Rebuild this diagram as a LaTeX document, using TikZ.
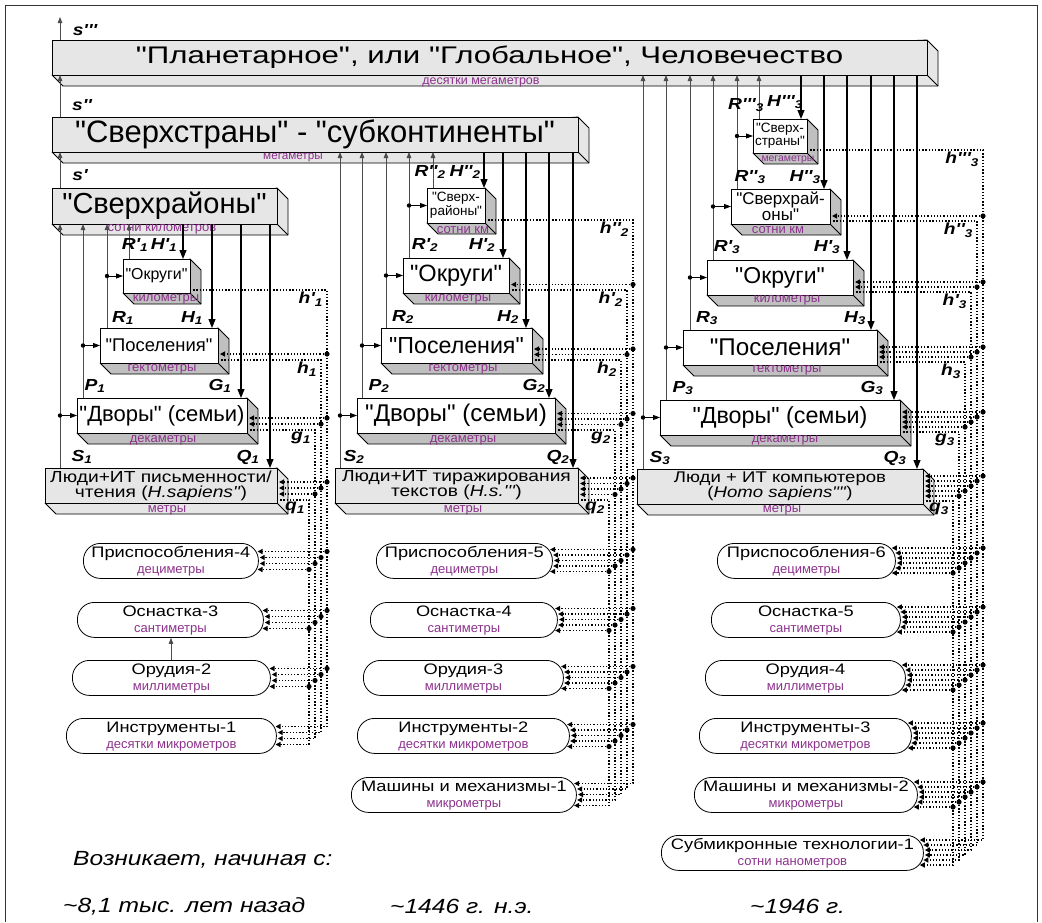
\documentclass[tikz,border=0pt]{standalone}
\usepackage{fontspec}
\newfontfamily\wf{Liberation Sans}[FakeStretch=1.2]
\newfontfamily\wwf{Liberation Sans}[FakeStretch=1.3]
\newfontfamily\nf{Liberation Sans}
\usetikzlibrary{arrows.meta}
\definecolor{purp}{RGB}{140,50,140}
\definecolor{lg}{RGB}{230,230,230}
\definecolor{mg}{RGB}{192,192,192}
\newcommand\fsz[1]{\fontsize{#1}{#1}\selectfont}
\tikzset{
 upc/.style={draw=black!70, line width=0.8pt, -{Triangle[length=6pt,width=4.5pt]}},
 dnc/.style={draw=black, line width=1.1pt, -{Triangle[length=9pt,width=7pt]}},
 brc/.style={draw=black, line width=0.8pt, -{Triangle[length=7pt,width=5pt]}},
 dotc/.style={draw=black, line width=1.3pt, dash pattern=on 1.3pt off 1.9pt, -{Triangle[length=5pt,width=5pt]}},
 sub/.style={text=purp, font=\nf\fsz{13}, inner sep=0pt},
 lbl/.style={font=\wf\fsz{16}\bfseries\itshape, inner sep=0pt},
 rb/.style={draw, line width=0.8pt, rounded corners=17pt, inner sep=0pt, anchor=north west},
 rbt/.style={font=\wf\fsz{15.2}, inner sep=0pt, text height=11pt, text depth=3pt},
}
% 3D box: name, x1, y1, x2, y2, front fill, side fill, font, text
\newcommand\tdbox[9]{%
  \filldraw[fill=#7, line width=0.8pt, line join=round] (#2,#5) -- (#2+11,#5+11) -- (#4+11,#5+11) -- (#4+11,#3+11) -- (#4,#3) -- cycle;
  \draw[line width=0.8pt] (#4,#5) -- (#4+11,#5+11);
  \node[draw, line width=0.8pt, fill=#6, anchor=north west, inner sep=0pt, outer sep=0pt,
        minimum width={#4-#2}, minimum height={#5-#3}, align=center, font=#8] (#1) at (#2,#3) {#9};
}
% rounded box: name, x1, y1, x2, y2, main, sub
\newcommand\rbox[7]{%
  \node[rb, minimum width={#4-#2}, minimum height={#5-#3}] (#1) at (#2,#3) {};
  \node[rbt] (#1t) at ([yshift=7pt]#1.center) {#6};
  \node[sub, text height=9pt, text depth=2.5pt] (#1s) at ([yshift=-9pt]#1.center) {#7};
}
\newcommand\upl[3]{\coordinate (q) at (#1,0); \draw[upc] (q |- #2.north) -- (q |- #3.south);}
\newcommand\dnl[3]{\coordinate (q) at (#1,0); \draw[dnc] (q |- #2.south) -- (q |- #3.north);}
\newcommand\brl[2]{\coordinate (q) at (#1,0); \draw[brc] (q |- #2.west) -- (#2.west); \fill (q |- #2.west) circle (2.2pt);}
% dotted feedback buses
\newcommand\getyx[2]{%
  \pgfmathsetmacro\yy{(#2>\Kk) ? ((\YA[#2-1]+\YB[#2-1])/2 + \Ss*(#1-1) - \Ss*(\Kk-1)/2) : (\YB[#2-1]-3-\Ss*(#2-#1))}%
  \pgfmathsetmacro\xx{(#2>\Kk) ? (\XR[#2-1]-17.5+sqrt(306.25-(\yy-(\YA[#2-1]+\YB[#2-1])/2)^2)+2) : (\XR[#2-1]+2)}%
}
\newcommand\buses{%
 \foreach \i in {1,...,\Kk}{%
   \pgfmathsetmacro\bx{\Xo-6*(\i-1)}%
   \pgfmathsetmacro\xo{\XR[\i-1]}%
   \pgfmathsetmacro\yo{\YB[\i-1]-3}%
   \getyx{\i}{\Mm}%
   \draw[dotc] (\xo,\yo) -- (\bx,\yo) -- (\bx,\yy) -- (\xx,\yy);
   \pgfmathtruncatemacro\ja{\i+1}%
   \pgfmathtruncatemacro\jb{\Mm-1}%
   \foreach \j in {\ja,...,\jb}{%
     \getyx{\i}{\j}%
     \draw[dotc] (\bx,\yy) -- (\xx,\yy);
     \fill (\bx,\yy) circle (2.6pt);
   }
 }
}
\begin{document}
\begin{tikzpicture}[x=1pt,y=-1pt]
\useasboundingbox (0,0) rectangle (1042,922);
\fill[white] (0,0) rectangle (1042,922);
\draw[line width=0.8pt, black!80] (5,922) -- (5,5) -- (1037,5) -- (1037,922);

% ---------- top level boxes ----------
\tdbox{PL}{52}{40}{927}{75}{lg}{lg}{\wwf\fsz{24}}{"Планетарное", или "Глобальное", Человечество}
\tdbox{SS}{52}{117}{578}{152}{lg}{lg}{\nf\fsz{31}}{"Сверхстраны" - "субконтиненты"}
\tdbox{SR1}{52}{188}{277}{224}{lg}{lg}{\nf\fsz{29}}{"Сверхрайоны"}
\node[sub, font=\nf\fsz{12.5}] (sPL) at (481,82) {десятки мегаметров};
\node[sub, font=\nf\fsz{11.7}] (sSS) at (293,158) {мегаметры};
\node[sub] (sSR1) at (162,229) {сотни километров};

% ---------- column 1 ----------
\tdbox{O1}{123}{259}{190}{293}{white}{mg}{\nf\fsz{15.9}}{"Округи"}
\tdbox{Pos1}{100}{328}{218}{363}{white}{mg}{\nf\fsz{18.4}}{"Поселения"}
\tdbox{D1}{77}{398}{247}{433}{white}{mg}{\nf\fsz{22}}{"Дворы" (семьи)}
\tdbox{L1}{45}{468}{277}{503}{lg}{lg}{\wf\fontsize{16}{15}\selectfont}{Люди+ИТ письменности/\\чтения (\textit{H.sapiens"})}
\node[sub] (sO1) at (166,299) {километры};
\node[sub] (sPos1) at (162,369) {гектометры};
\node[sub] (sD1) at (163,440) {декаметры};
\node[sub] (sL1) at (167,510) {метры};
\rbox{Pr4}{83}{543}{258}{578}{Приспособления-4}{дециметры}
\rbox{Os3}{77}{602}{263}{637}{Оснастка-3}{сантиметры}
\rbox{Or2}{72}{660}{270}{695}{Орудия-2}{миллиметры}
\rbox{In1}{66}{718}{276}{753}{Инструменты-1}{десятки микрометров}

% ---------- column 2 ----------
\tdbox{SR2}{427}{188}{485}{223}{white}{mg}{\nf\fontsize{13.5}{11.5}\selectfont}{"Сверх-\\районы"}
\tdbox{O2}{403}{258}{509}{293}{white}{mg}{\nf\fsz{23.6}}{"Округи"}
\tdbox{Pos2}{381}{328}{532}{363}{white}{mg}{\nf\fsz{23.2}}{"Поселения"}
\tdbox{D2}{357}{398}{555}{433}{white}{mg}{\nf\fsz{24.2}}{"Дворы" (семьи)}
\tdbox{L2}{335}{468}{578}{503}{lg}{lg}{\wf\fontsize{16}{15}\selectfont}{Люди+ИТ тиражирования\\текстов (\textit{H.s.'''})}
\node[sub] (sSR2) at (463,230) {сотни км};
\node[sub] (sO2) at (458,299) {километры};
\node[sub] (sPos2) at (463,369) {гектометры};
\node[sub] (sD2) at (463,440) {декаметры};
\node[sub] (sL2) at (463,510) {метры};
\rbox{Pr5}{376}{543}{552}{578}{Приспособления-5}{дециметры}
\rbox{Os4}{370}{602}{557}{637}{Оснастка-4}{сантиметры}
\rbox{Or3}{363}{660}{563}{695}{Орудия-3}{миллиметры}
\rbox{In2}{357}{718}{569}{753}{Инструменты-2}{десятки микрометров}
\rbox{Ma1}{351}{777}{576}{812}{Машины и механизмы-1}{микрометры}

% ---------- column 3 ----------
\tdbox{SS3}{753}{119}{807}{153}{white}{mg}{\nf\fontsize{13.5}{11.5}\selectfont}{"Сверх-\\страны"}
\tdbox{SR3}{731}{189}{830}{224}{white}{mg}{\nf\fontsize{17}{13.5}\selectfont}{"Сверхрай-\\оны"}
\tdbox{O3}{707}{260}{853}{295}{white}{mg}{\nf\fsz{23}}{"Округи"}
\tdbox{Pos3}{683}{330}{877}{365}{white}{mg}{\nf\fsz{24.2}}{"Поселения"}
\tdbox{D3}{660}{400}{900}{435}{white}{mg}{\nf\fsz{23.3}}{"Дворы" (семьи)}
\tdbox{L3}{637}{469}{923}{504}{lg}{lg}{\wf\fontsize{15.5}{15}\selectfont}{Люди + ИТ компьютеров\\(\textit{Homo sapiens""})}
\node[sub, font=\nf\fsz{10.4}] (sSS3) at (788,160) {мегаметры};
\node[sub] (sSR3) at (778,230) {сотни км};
\node[sub] (sO3) at (787,300) {километры};
\node[sub] (sPos3) at (787,370) {гектометры};
\node[sub] (sD3) at (785,440) {декаметры};
\node[sub] (sL3) at (782,510) {метры};
\rbox{Pr6}{717}{543}{895}{578}{Приспособления-6}{дециметры}
\rbox{Os5}{711}{602}{900}{637}{Оснастка-5}{сантиметры}
\rbox{Or4}{705}{660}{905}{695}{Орудия-4}{миллиметры}
\rbox{In3}{699}{718}{911}{753}{Инструменты-3}{десятки микрометров}
\rbox{Ma2}{694}{777}{917}{812}{Машины и механизмы-2}{микрометры}
\rbox{Su1}{661}{835}{923}{870}{Субмикронные технологии-1}{сотни нанометров}

% ---------- solid connectors ----------
\coordinate (topend) at (60,17);
\coordinate (q) at (60,0);
\draw[upc] (q |- PL.north) -- (topend);
\upl{60}{SS}{PL}
\upl{60}{SR1}{SS}
% column 1
\upl{60}{L1}{SR1} \upl{83}{D1}{SR1} \upl{107}{Pos1}{SR1} \upl{129}{O1}{SR1}
\brl{60}{D1} \brl{83}{Pos1} \brl{107}{O1}
\dnl{183}{SR1}{O1} \dnl{212}{SR1}{Pos1} \dnl{241}{SR1}{D1} \dnl{270}{SR1}{L1}
\upl{171}{Or2}{Os3}
% column 2
\upl{340}{L2}{SS} \upl{362}{D2}{SS} \upl{386}{Pos2}{SS} \upl{409}{O2}{SS} \upl{433}{SR2}{SS}
\brl{340}{D2} \brl{362}{Pos2} \brl{386}{O2} \brl{409}{SR2}
\dnl{484}{SS}{SR2} \dnl{503}{SS}{O2} \dnl{526}{SS}{Pos2} \dnl{549}{SS}{D2} \dnl{573}{SS}{L2}
% column 3
\upl{643}{L3}{PL} \upl{666}{D3}{PL} \upl{690}{Pos3}{PL} \upl{713}{O3}{PL} \upl{737}{SR3}{PL} \upl{759}{SS3}{PL}
\brl{643}{D3} \brl{666}{Pos3} \brl{690}{O3} \brl{713}{SR3} \brl{737}{SS3}
\dnl{801}{PL}{SS3} \dnl{824}{PL}{SR3} \dnl{847}{PL}{O3} \dnl{871}{PL}{Pos3} \dnl{894}{PL}{D3} \dnl{917}{PL}{L3}

% ---------- dotted buses ----------
\def\XR{{190,218,247,277,258,263,270,276}}
\def\YA{{259,328,398,468,543,602,660,718}}
\def\YB{{293,363,433,503,578,637,695,753}}
\def\Kk{4}\def\Mm{8}\def\Xo{327}\def\Ss{6}
\buses
\def\XR{{485,509,532,555,578,552,557,563,569,576}}
\def\YA{{188,258,328,398,468,543,602,660,718,777}}
\def\YB{{223,293,363,433,503,578,637,695,753,812}}
\def\Kk{5}\def\Mm{10}\def\Xo{633}\def\Ss{5.5}
\buses
\def\XR{{807,830,853,877,900,923,895,900,905,911,917,923}}
\def\YA{{119,189,260,330,400,469,543,602,660,718,777,835}}
\def\YB{{153,224,295,365,435,504,578,637,695,753,812,870}}
\def\Kk{6}\def\Mm{12}\def\Xo{983}\def\Ss{5}
\buses

% ---------- labels ----------
\node[lbl] (ls3) at (85,30) {s'''};
\node[lbl] (ls2) at (82,105) {s''};
\node[lbl] (ls1) at (80,175) {s'};
% column 1
\node[lbl] (lRa1) at (135,245) {R'\textsubscript{1}};
\node[lbl] (lHa1) at (164,245) {H'\textsubscript{1}};
\node[lbl] (lR1) at (123,318) {R\textsubscript{1}};
\node[lbl] (lH1) at (192,318) {H\textsubscript{1}};
\node[lbl] (lP1) at (95,386) {P\textsubscript{1}};
\node[lbl] (lG1) at (220,386) {G\textsubscript{1}};
\node[lbl] (lS1) at (82,457) {S\textsubscript{1}};
\node[lbl] (lQ1) at (248,457) {Q\textsubscript{1}};
\node[lbl, anchor=north east] (lh11) at (323,292) {h'\textsubscript{1}};
\node[lbl, anchor=north east] (lh1) at (317,362) {h\textsubscript{1}};
\node[lbl, anchor=north east] (lg1) at (311,432) {g\textsubscript{1}};
\node[lbl, anchor=north east] (lq1) at (305,502) {q\textsubscript{1}};
% column 2
\node[lbl] (lRb2) at (430,172) {R''\textsubscript{2}};
\node[lbl] (lHb2) at (465,172) {H''\textsubscript{2}};
\node[lbl] (lRa2) at (425,245) {R'\textsubscript{2}};
\node[lbl] (lHa2) at (482,245) {H'\textsubscript{2}};
\node[lbl] (lR2) at (403,317) {R\textsubscript{2}};
\node[lbl] (lH2) at (508,317) {H\textsubscript{2}};
\node[lbl] (lP2) at (379,386) {P\textsubscript{2}};
\node[lbl] (lG2) at (534,386) {G\textsubscript{2}};
\node[lbl] (lS2) at (354,457) {S\textsubscript{2}};
\node[lbl] (lQ2) at (558,457) {Q\textsubscript{2}};
\node[lbl, anchor=north east] (lh22) at (629,222) {h''\textsubscript{2}};
\node[lbl, anchor=north east] (lh21) at (623,292) {h'\textsubscript{2}};
\node[lbl, anchor=north east] (lh2) at (617,362) {h\textsubscript{2}};
\node[lbl, anchor=north east] (lg2) at (611,432) {g\textsubscript{2}};
\node[lbl, anchor=north east] (lq2) at (605,502) {q\textsubscript{2}};
% column 3
\node[lbl] (lRc3) at (746,105) {R'''\textsubscript{3}};
\node[lbl] (lHc3) at (785,102) {H'''\textsubscript{3}};
\node[lbl] (lRb3) at (750,177) {R''\textsubscript{3}};
\node[lbl] (lHb3) at (805,177) {H''\textsubscript{3}};
\node[lbl] (lRa3) at (727,247) {R'\textsubscript{3}};
\node[lbl] (lHa3) at (827,247) {H'\textsubscript{3}};
\node[lbl] (lR3) at (707,318) {R\textsubscript{3}};
\node[lbl] (lH3) at (855,318) {H\textsubscript{3}};
\node[lbl] (lP3) at (683,388) {P\textsubscript{3}};
\node[lbl] (lG3) at (872,388) {G\textsubscript{3}};
\node[lbl] (lS3) at (660,458) {S\textsubscript{3}};
\node[lbl] (lQ3) at (895,458) {Q\textsubscript{3}};
\node[lbl, anchor=north east] (lh33) at (979,152) {h'''\textsubscript{3}};
\node[lbl, anchor=north east] (lh32) at (973,223) {h''\textsubscript{3}};
\node[lbl, anchor=north east] (lh31) at (967,294) {h'\textsubscript{3}};
\node[lbl, anchor=north east] (lh3) at (961,364) {h\textsubscript{3}};
\node[lbl, anchor=north east] (lg3) at (955,434) {g\textsubscript{3}};
\node[lbl, anchor=north east] (lq3) at (949,503) {q\textsubscript{3}};

% ---------- bottom texts ----------
\node[anchor=west, inner sep=0pt, font=\wf\fsz{20.5}\itshape] (t0) at (73,860) {Возникает, начиная с:};
\node[anchor=west, inner sep=0pt, font=\wf\fsz{20.5}\itshape] (t1) at (63,906) {\symbol{126}8,1 тыс. лет назад};
\node[anchor=west, inner sep=0pt, font=\wf\fsz{20.5}\itshape] (t2) at (390,906) {\symbol{126}1446 г. н.э.};
\node[anchor=west, inner sep=0pt, font=\wf\fsz{20.5}\itshape] (t3) at (750,906) {\symbol{126}1946 г.};
\end{tikzpicture}
\end{document}
